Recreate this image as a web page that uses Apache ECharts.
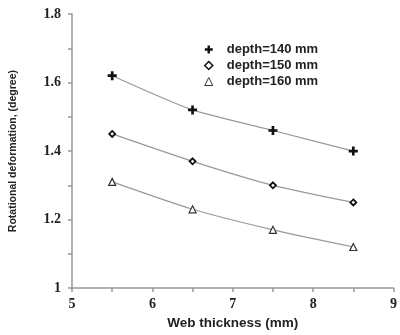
<!DOCTYPE html>
<html><head><meta charset="utf-8">
<script src="https://cdn.jsdelivr.net/npm/echarts@6/dist/echarts.min.js"></script>
<style>html,body{margin:0;padding:0;background:#fff}#c{width:400px;height:335px}</style>
</head><body><div id="c"></div>
<script>
const thickness = [5.5, 6.5, 7.5, 8.5];
const depth140 = [1.62, 1.52, 1.46, 1.40];
const depth150 = [1.45, 1.37, 1.30, 1.25];
const depth160 = [1.31, 1.23, 1.17, 1.12];
const seriesNames = ['depth=140 mm', 'depth=150 mm', 'depth=160 mm'];

const cross = 'path://M3.5,0 L6.5,0 L6.5,3.5 L10,3.5 L10,6.5 L6.5,6.5 L6.5,10 L3.5,10 L3.5,6.5 L0,6.5 L0,3.5 L3.5,3.5 Z';
const pair = (ys) => thickness.map((x, i) => [x, ys[i]]);

const chart = echarts.init(document.getElementById('c'), null, {renderer: 'canvas'});
const tickFont = {fontFamily: 'Liberation Serif', fontWeight: 'bold', fontSize: 14, color: '#222'};
const axisGray = '#999';
chart.setOption({
  animation: false,
  grid: {left: 69, right: 1, top: 14, bottom: 46, containLabel: false},
  legend: {
    orient: 'vertical', left: 199, top: 38, itemGap: 3, itemWidth: 8, itemHeight: 8,
    textStyle: {fontFamily: 'Liberation Sans', fontWeight: 'bold', fontSize: 13, color: '#222', padding: [0, 0, 0, 9]},
    data: [
      {name: seriesNames[0], icon: cross, itemStyle: {color: '#111', borderWidth: 0}},
      {name: seriesNames[1], icon: 'diamond', itemStyle: {color: '#fff', borderColor: '#111', borderWidth: 1.5}},
      {name: seriesNames[2], icon: 'triangle', itemStyle: {color: '#fff', borderColor: '#333', borderWidth: 1}}
    ]
  },
  xAxis: {
    type: 'value', min: 5, max: 9, interval: 1,
    name: 'Web thickness (mm)', nameLocation: 'middle', nameGap: 26,
    nameTextStyle: {fontFamily: 'Liberation Sans', fontWeight: 'bold', fontSize: 13.5, color: '#222'},
    axisLine: {lineStyle: {color: axisGray, width: 1.5}},
    axisTick: {show: true, length: 4, lineStyle: {color: axisGray, width: 1.5}},
    minorTick: {show: true, splitNumber: 2, length: 4, lineStyle: {color: axisGray, width: 1.5}},
    axisLabel: Object.assign({margin: 9}, tickFont),
    splitLine: {show: false}
  },
  yAxis: {
    type: 'value', min: 1, max: 1.8, interval: 0.2,
    name: 'Rotational deformation, (degree)', nameLocation: 'middle', nameGap: 53,
    nameTextStyle: {fontFamily: 'Liberation Sans', fontWeight: 'bold', fontSize: 10.5, color: '#222'},
    axisLine: {show: true, lineStyle: {color: axisGray, width: 1.5}},
    axisTick: {show: true, length: 4, lineStyle: {color: axisGray, width: 1.5}},
    minorTick: {show: true, splitNumber: 2, length: 4, lineStyle: {color: axisGray, width: 1.5}},
    axisLabel: Object.assign({margin: 11, formatter: v => String(Math.round(v * 10) / 10)}, tickFont),
    splitLine: {show: false}
  },
  series: [
    {name: seriesNames[0], type: 'line', data: pair(depth140), smooth: 0.2,
     symbol: cross, symbolSize: 9, itemStyle: {color: '#111', borderWidth: 0},
     lineStyle: {color: '#999', width: 1.2}},
    {name: seriesNames[1], type: 'line', data: pair(depth150), smooth: 0.2,
     symbol: 'diamond', symbolSize: 6, itemStyle: {color: '#fff', borderColor: '#111', borderWidth: 1.8}},
    {name: seriesNames[2], type: 'line', data: pair(depth160), smooth: 0.2,
     symbol: 'triangle', symbolSize: 7, itemStyle: {color: '#fff', borderColor: '#333', borderWidth: 1.2},
     lineStyle: {color: '#999', width: 1.2}}
  ]
});
// keep second series line style consistent
chart.setOption({series: [{}, {lineStyle: {color: '#999', width: 1.2}}, {}]});
</script></body></html>
